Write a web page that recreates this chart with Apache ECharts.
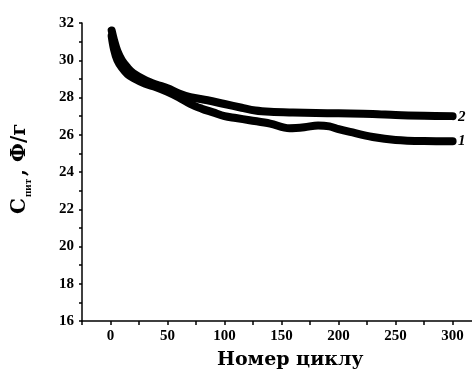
<!DOCTYPE html>
<html>
<head>
<meta charset="utf-8">
<script src="https://cdn.jsdelivr.net/npm/echarts@6/dist/echarts.min.js"></script>
<style>
  html, body { margin: 0; padding: 0; background: #fff; }
  #chart { width: 472px; height: 374px; }
</style>
</head>
<body>
<div id="chart"></div>
<script>
// curve 1 (lower) and curve 2 (upper): specific capacitance vs cycle number
const cycles1 = [1, 3, 6, 10, 15, 20, 30, 40, 50, 60, 70, 80, 90, 100, 110, 122, 140, 157, 170, 182, 192, 200, 210, 230, 250, 275, 300];
const capacity1 = [31.3, 30.6, 30.0, 29.6, 29.25, 29.05, 28.75, 28.55, 28.3, 28.0, 27.65, 27.4, 27.2, 27.0, 26.9, 26.78, 26.6, 26.35, 26.4, 26.5, 26.45, 26.3, 26.15, 25.88, 25.72, 25.66, 25.65];

const cycles2 = [1, 3, 6, 10, 15, 20, 30, 40, 50, 60, 70, 85, 100, 115, 127, 140, 160, 180, 200, 230, 250, 275, 300];
const capacity2 = [31.6, 31.1, 30.5, 30.0, 29.6, 29.3, 28.95, 28.7, 28.5, 28.22, 28.02, 27.85, 27.65, 27.45, 27.3, 27.23, 27.19, 27.17, 27.15, 27.12, 27.06, 27.02, 27.0];

const xTickLabels = [0, 50, 100, 150, 200, 250, 300];
const yTickLabels = [16, 18, 20, 22, 24, 26, 28, 30, 32];

const curveNames = ["1", "2"];

const toPairs = (xs, ys) => xs.map((x, i) => [x, ys[i]]);

const serifTicks = "'Liberation Serif', 'DejaVu Serif', serif";
const serifTitle = "'DejaVu Serif', 'Liberation Serif', serif";

const chart = echarts.init(document.getElementById("chart"), null, { renderer: "canvas" });

const curveSeries = (name, data) => ({
  name,
  type: "line",
  data,
  smooth: 0.35,
  showSymbol: false,
  animation: false,
  lineStyle: { color: "#000", width: 8, cap: "round", join: "round" },
});

chart.setOption({
  backgroundColor: "#fff",
  animation: false,
  grid: { left: 82, right: 0, top: 23, bottom: 53 },
  xAxis: {
    type: "value",
    min: -25,
    max: 317,
    interval: 25,
    axisLine: { onZero: false, lineStyle: { color: "#000", width: 1.5 } },
    axisTick: { inside: false, length: 4, lineStyle: { color: "#000", width: 1.5 } },
    splitLine: { show: false },
    axisLabel: {
      margin: 8,
      color: "#000",
      fontFamily: serifTicks,
      fontWeight: "bold",
      fontSize: 15,
      showMaxLabel: false,
      formatter: (v) => (xTickLabels.includes(v) ? String(v) : ""),
    },
  },
  yAxis: {
    type: "value",
    min: 16,
    max: 32,
    interval: 2,
    axisLine: { show: true, onZero: false, lineStyle: { color: "#000", width: 1.5 } },
    axisTick: { show: true, length: 3, lineStyle: { color: "#000", width: 1.5 } },
    minorTick: { show: true, splitNumber: 2, length: 3, lineStyle: { color: "#000", width: 1.5 } },
    splitLine: { show: false },
    axisLabel: {
      margin: 8,
      color: "#000",
      fontFamily: serifTicks,
      fontWeight: "bold",
      fontSize: 15,
      formatter: (v) => (yTickLabels.includes(v) ? String(v) : ""),
    },
  },
  series: [
    curveSeries(curveNames[0], toPairs(cycles1, capacity1)),
    curveSeries(curveNames[1], toPairs(cycles2, capacity2)),
  ],
  graphic: [
    {
      type: "text",
      left: 217,
      top: 351,
      style: {
        text: "Номер циклу",
        fill: "#000",
        font: `bold 19px ${serifTitle}`,
      },
    },
    {
      type: "group",
      x: 25.7,
      y: 214,
      rotation: Math.PI / 2,
      children: [
        {
          type: "text",
          x: 0,
          y: -6,
          style: { text: "C", fill: "#000", font: `bold 20px ${serifTitle}`, verticalAlign: "middle", align: "left" },
        },
        {
          type: "text",
          x: 17,
          y: 2.5,
          style: { text: "пит", fill: "#000", font: `bold 11px ${serifTicks}`, verticalAlign: "middle", align: "left" },
        },
        {
          type: "text",
          x: 38,
          y: -6,
          style: { text: ", Ф/г", fill: "#000", font: `bold 20px ${serifTitle}`, verticalAlign: "middle", align: "left" },
        },
      ],
    },
    {
      type: "text",
      x: 458,
      y: 117,
      style: { text: curveNames[1], fill: "#000", font: `italic bold 15px ${serifTicks}`, verticalAlign: "middle" },
    },
    {
      type: "text",
      x: 458,
      y: 141,
      style: { text: curveNames[0], fill: "#000", font: `italic bold 15px ${serifTicks}`, verticalAlign: "middle" },
    },
  ],
});
</script>
</body>
</html>
